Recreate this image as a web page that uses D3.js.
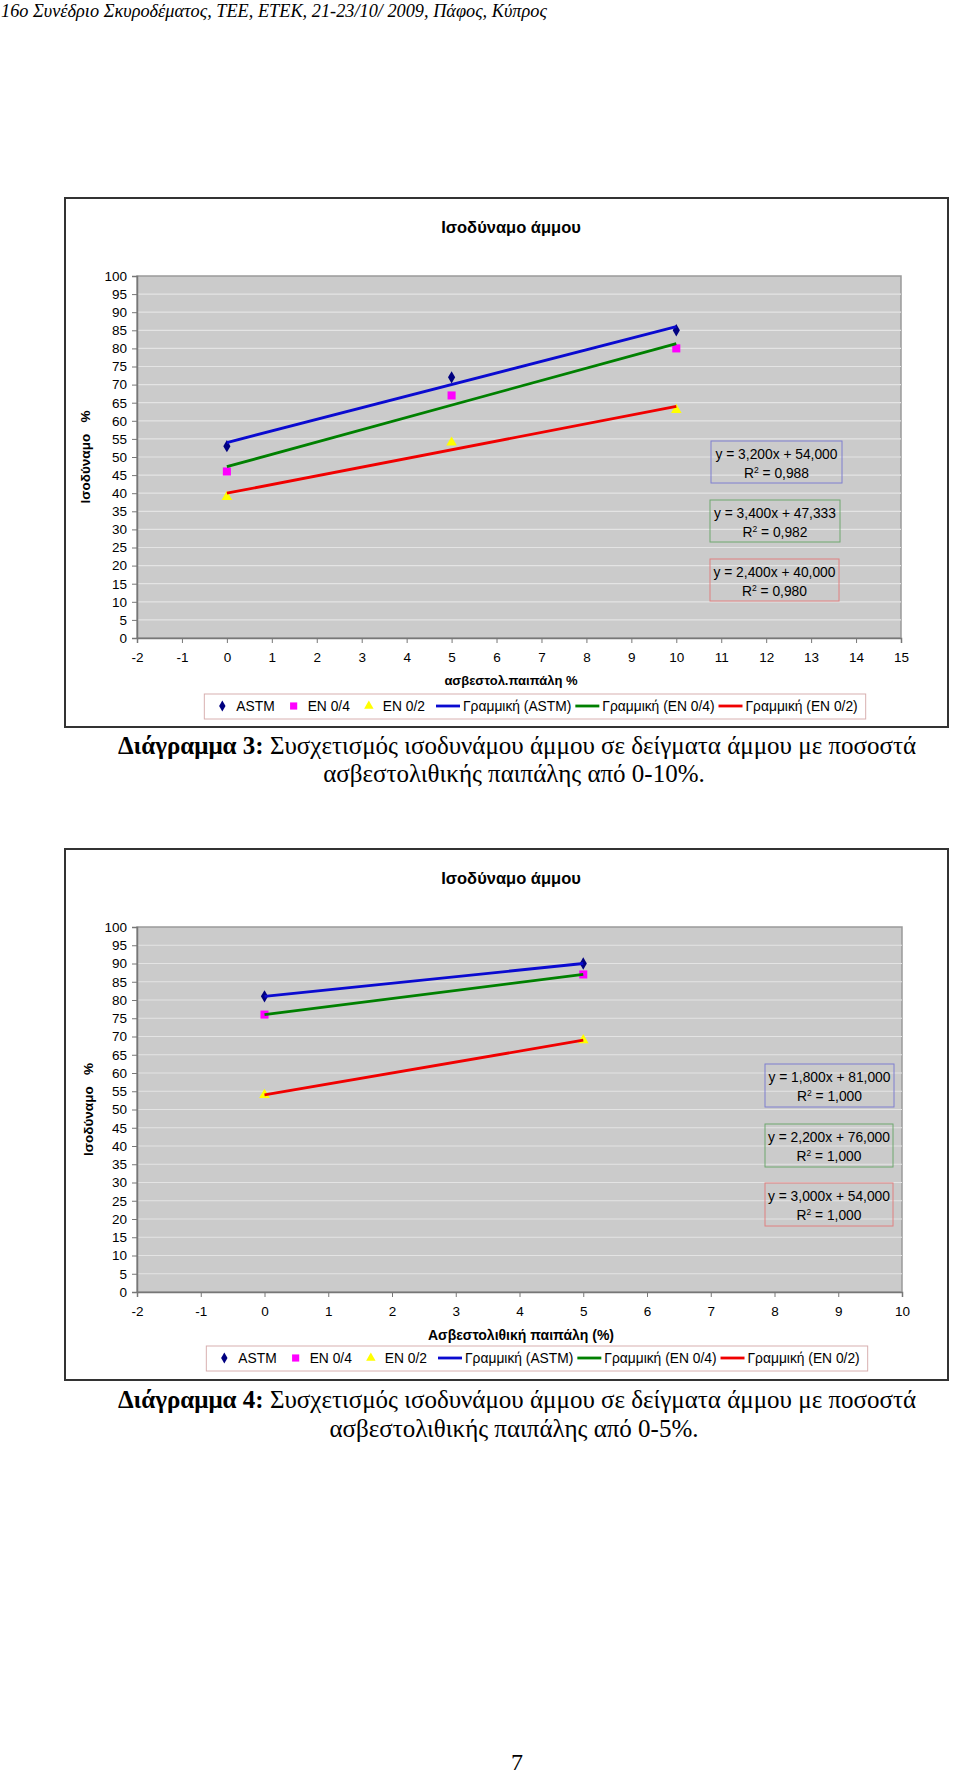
<!DOCTYPE html>
<html>
<head>
<meta charset="utf-8">
<script src="https://cdn.jsdelivr.net/npm/d3@7"></script>
<style>
  html, body { margin: 0; padding: 0; background: #fff; }
  svg { display: block; }
</style>
</head>
<body>
<svg id="page" width="960" height="1775"></svg>
<script>
// ---------------- DATA ----------------
const seriesNames = ["ASTM", "EN 0/4", "EN 0/2"];
const trendNames = ["Γραμμική (ASTM)", "Γραμμική (EN 0/4)", "Γραμμική (EN 0/2)"];
const yTickValues = [0,5,10,15,20,25,30,35,40,45,50,55,60,65,70,75,80,85,90,95,100];

// Chart 3 (0-10%)
const c1X = [0, 5, 10];
const c1Astm = [53, 72, 85];
const c1En04 = [46, 67, 80];
const c1En02 = [39, 54, 63];
const c1Slopes = [3.2, 3.4, 2.4];
const c1Intercepts = [54.0, 47.333, 40.0];
const c1Eq = ["y = 3,200x + 54,000", "y = 3,400x + 47,333", "y = 2,400x + 40,000"];
const c1R2 = ["0,988", "0,982", "0,980"];
const c1XTicks = [-2,-1,0,1,2,3,4,5,6,7,8,9,10,11,12,13,14,15];

// Chart 4 (0-5%)
const c2X = [0, 5];
const c2Astm = [81, 90];
const c2En04 = [76, 87];
const c2En02 = [54, 69];
const c2Slopes = [1.8, 2.2, 3.0];
const c2Intercepts = [81.0, 76.0, 54.0];
const c2Eq = ["y = 1,800x + 81,000", "y = 2,200x + 76,000", "y = 3,000x + 54,000"];
const c2R2 = ["1,000", "1,000", "1,000"];
const c2XTicks = [-2,-1,0,1,2,3,4,5,6,7,8,9,10];

const headerText = "16ο Συνέδριο Σκυροδέματος, ΤΕΕ, ΕΤΕΚ, 21-23/10/ 2009, Πάφος, Κύπρος";
const caption3 = ["Διάγραμμα 3:", " Συσχετισμός ισοδυνάμου άμμου σε δείγματα άμμου με ποσοστά", "ασβεστολιθικής παιπάλης από 0-10%."];
const caption4 = ["Διάγραμμα 4:", " Συσχετισμός ισοδυνάμου άμμου σε δείγματα άμμου με ποσοστά", "ασβεστολιθικής παιπάλης από 0-5%."];

// ---------------- STYLE ----------------
const markerColors = ["#000080", "#ff00ff", "#ffff00"];
const lineColors = ["#0a0ad0", "#008000", "#f00000"];
const boxBorderColors = ["#7f7fd0", "#6fa86f", "#e08080"];
const sans = "'Liberation Sans', Arial, sans-serif";
const serif = "'Liberation Serif', 'Times New Roman', serif";

const svg = d3.select("#page");

// header
svg.append("text").attr("x", 1).attr("y", 17)
  .attr("font-family", serif).attr("font-style", "italic").attr("font-size", 18.3)
  .attr("fill", "#000").text(headerText);

function markerPath(i, size) {
  const t = [d3.symbolDiamond, d3.symbolSquare, d3.symbolTriangle][i];
  const area = [size*size*0.55, size*size*0.8, size*size*0.6][i];
  return d3.symbol().type(t).size(area)();
}

function drawChart(cfg) {
  const g = svg.append("g");
  // outer box
  g.append("rect").attr("x", cfg.box[0]).attr("y", cfg.box[1])
    .attr("width", cfg.box[2]-cfg.box[0]).attr("height", cfg.box[3]-cfg.box[1])
    .attr("fill", "#fff").attr("stroke", "#333").attr("stroke-width", 2);

  // title
  g.append("text").attr("x", cfg.titleX).attr("y", cfg.titleY)
    .attr("text-anchor", "middle").attr("font-family", sans).attr("font-weight", "bold")
    .attr("font-size", 16.5).text("Ισοδύναμο άμμου");

  const x = d3.scaleLinear().domain(cfg.xDomain).range([cfg.plot[0], cfg.plot[2]]);
  const y = d3.scaleLinear().domain([0, 100]).range([cfg.plot[3], cfg.plot[1]]);

  // plot area
  g.append("rect").attr("x", cfg.plot[0]).attr("y", cfg.plot[1])
    .attr("width", cfg.plot[2]-cfg.plot[0]).attr("height", cfg.plot[3]-cfg.plot[1])
    .attr("fill", "#cbcbcb").attr("stroke", "#9a9a9a").attr("stroke-width", 1.5);

  // gridlines
  g.append("g").selectAll("line").data(yTickValues.filter(v => v > 0 && v < 100)).join("line")
    .attr("x1", cfg.plot[0]).attr("x2", cfg.plot[2])
    .attr("y1", d => y(d)).attr("y2", d => y(d))
    .attr("stroke", "#e4e4e4").attr("stroke-width", 1.2);

  // y axis
  const ya = g.append("g").attr("transform", `translate(${cfg.plot[0]},0)`)
    .call(d3.axisLeft(y).tickValues(yTickValues).tickSize(5).tickPadding(5).tickFormat(d3.format("d")));
  ya.select(".domain").attr("stroke", "#777").attr("stroke-width", 1.5);
  ya.selectAll(".tick line").attr("stroke", "#777");
  ya.selectAll("text").attr("font-family", sans).attr("font-size", 13.5).attr("fill", "#000");

  // x axis
  const xa = g.append("g").attr("transform", `translate(0,${cfg.plot[3]})`)
    .call(d3.axisBottom(x).tickValues(cfg.xTicks).tickSize(5).tickPadding(9).tickFormat(d3.format("d")));
  xa.select(".domain").attr("stroke", "#777").attr("stroke-width", 1.5);
  xa.selectAll(".tick line").attr("stroke", "#777");
  xa.selectAll("text").attr("font-family", sans).attr("font-size", 13.5).attr("fill", "#000")
    .text(d => d < 0 ? "-" + Math.abs(d) : d);

  // axis titles
  g.append("text").attr("x", cfg.xTitleX).attr("y", cfg.xTitleY)
    .attr("text-anchor", "middle").attr("font-family", sans).attr("font-weight", "bold")
    .attr("font-size", cfg.xTitleSize).text(cfg.xTitle);
  g.append("text")
    .attr("transform", `translate(${cfg.yTitleX},${(cfg.plot[1]+cfg.plot[3])/2}) rotate(-90)`)
    .attr("text-anchor", "middle").attr("font-family", sans).attr("font-weight", "bold")
    .attr("font-size", 13.5).attr("xml:space", "preserve").text("Ισοδύναμο   %");

  // markers
  cfg.series.forEach((vals, i) => {
    g.append("g").selectAll("path").data(vals).join("path")
      .attr("transform", (d, j) => `translate(${x(cfg.xs[j])},${y(d)})`)
      .attr("d", markerPath(i, 9))
      .attr("fill", markerColors[i]);
  });

  // trend lines
  cfg.slopes.forEach((m, i) => {
    const xs = [cfg.xs[0], cfg.xs[cfg.xs.length-1]];
    g.append("path").datum(xs)
      .attr("d", d3.line().x(d => x(d)).y(d => y(m*d + cfg.intercepts[i])))
      .attr("stroke", lineColors[i]).attr("stroke-width", 2.8).attr("fill", "none");
  });

  // equation boxes
  cfg.eqBoxes.forEach((b, i) => {
    g.append("rect").attr("x", b[0]).attr("y", b[1]).attr("width", b[2]-b[0]).attr("height", b[3]-b[1])
      .attr("fill", "none").attr("stroke", boxBorderColors[i]).attr("stroke-width", 1);
    const cx = (b[0]+b[2])/2;
    g.append("text").attr("x", cx).attr("y", b[1]+18).attr("text-anchor", "middle")
      .attr("font-family", sans).attr("font-size", 13.8).text(cfg.eq[i]);
    const t = g.append("text").attr("x", cx).attr("y", b[1]+37).attr("text-anchor", "middle")
      .attr("font-family", sans).attr("font-size", 13.8);
    t.append("tspan").text("R");
    t.append("tspan").attr("font-size", 8.5).attr("dy", -5.5).text("2");
    t.append("tspan").attr("dy", 5.5).text(" = " + cfg.r2[i]);
  });

  // legend
  const lg = g.append("g");
  const lbox = lg.append("rect").attr("fill", "#fff").attr("stroke", "#d8b0b0").attr("stroke-width", 1);
  let cx = 0;
  const items = lg.append("g");
  const ly = cfg.legendY;
  seriesNames.forEach((n, i) => {
    items.append("path").attr("transform", `translate(${cx+6},${ly})`).attr("d", markerPath(i, 8))
      .attr("fill", markerColors[i]);
    const tx = items.append("text").attr("x", cx + 20).attr("y", ly + 5)
      .attr("font-family", sans).attr("font-size", 13.8).text(n);
    cx += 20 + tx.node().getComputedTextLength() + 13;
  });
  trendNames.forEach((n, i) => {
    items.append("line").attr("x1", cx-2).attr("x2", cx + 22).attr("y1", ly).attr("y2", ly)
      .attr("stroke", lineColors[i]).attr("stroke-width", 2.8);
    const tx = items.append("text").attr("x", cx + 25).attr("y", ly + 5)
      .attr("font-family", sans).attr("font-size", 13.8).text(n);
    cx += 25 + tx.node().getComputedTextLength() + 6;
  });
  const totalW = cx - 6;
  const startX = cfg.legendCX - totalW/2;
  items.attr("transform", `translate(${startX},0)`);
  lbox.attr("x", startX - 12).attr("y", ly - 12).attr("width", totalW + 20).attr("height", 25);

  // caption
  const cap = svg.append("text").attr("x", cfg.capX).attr("y", cfg.capY[0]).attr("text-anchor", "middle")
    .attr("font-family", serif).attr("font-size", cfg.capSize);
  cap.append("tspan").attr("font-weight", "bold").text(cfg.caption[0]);
  cap.append("tspan").text(cfg.caption[1]);
  svg.append("text").attr("x", cfg.capX - 3).attr("y", cfg.capY[1]).attr("text-anchor", "middle")
    .attr("font-family", serif).attr("font-size", cfg.capSize).text(cfg.caption[2]);
}

drawChart({
  box: [65, 198, 948, 727],
  plot: [137, 276, 901, 638],
  titleX: 511, titleY: 233,
  xDomain: [-2, 15], xTicks: c1XTicks,
  xs: c1X, series: [c1Astm, c1En04, c1En02],
  slopes: c1Slopes, intercepts: c1Intercepts,
  eq: c1Eq, r2: c1R2,
  eqBoxes: [[711, 441, 842, 483], [710, 500, 840, 542], [710, 559, 839, 601]],
  xTitle: "ασβεστολ.παιπάλη %", xTitleX: 511, xTitleY: 685, xTitleSize: 13, yTitleX: 90,
  legendY: 706, legendCX: 537,
  caption: caption3, capX: 517, capY: [754, 782], capSize: 25
});

drawChart({
  box: [65, 849, 948, 1380],
  plot: [137, 927, 902, 1292],
  titleX: 511, titleY: 884,
  xDomain: [-2, 10], xTicks: c2XTicks,
  xs: c2X, series: [c2Astm, c2En04, c2En02],
  slopes: c2Slopes, intercepts: c2Intercepts,
  eq: c2Eq, r2: c2R2,
  eqBoxes: [[765, 1064, 894, 1107], [765, 1124, 893, 1167], [765, 1183, 893, 1226]],
  xTitle: "Ασβεστολιθική παιπάλη (%)", xTitleX: 521, xTitleY: 1340, xTitleSize: 14, yTitleX: 93,
  legendY: 1358, legendCX: 539,
  caption: caption4, capX: 517, capY: [1408, 1437], capSize: 25
});

// page number
svg.append("text").attr("x", 517).attr("y", 1770).attr("text-anchor", "middle")
  .attr("font-family", serif).attr("font-size", 24).text("7");
</script>
</body>
</html>
